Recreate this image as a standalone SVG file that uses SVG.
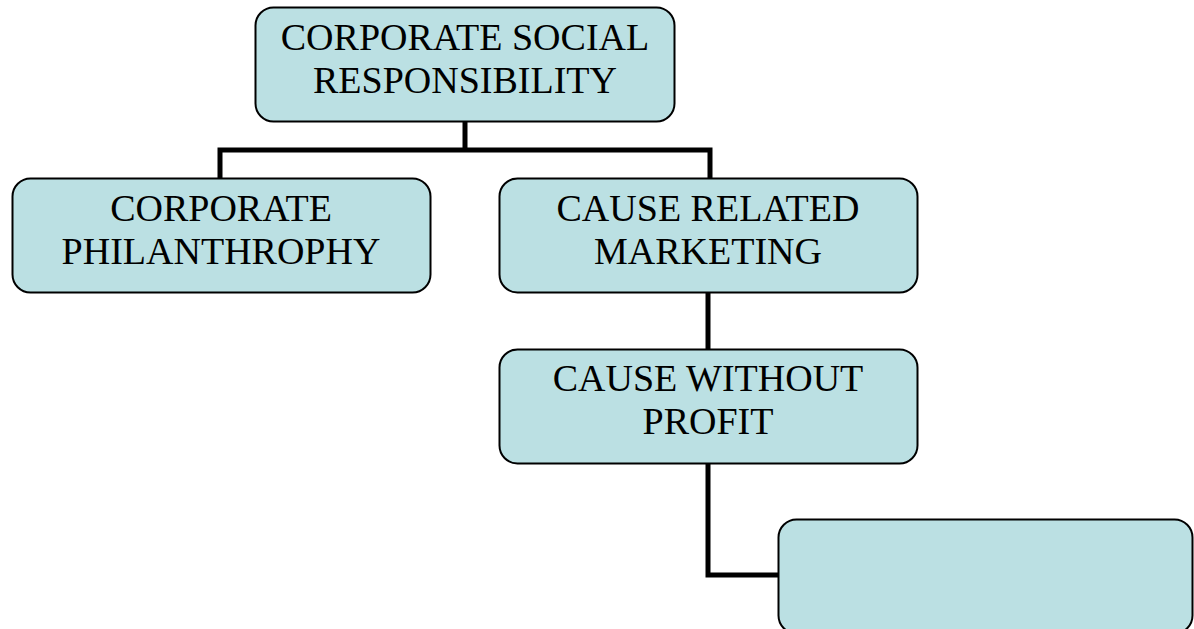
<svg xmlns="http://www.w3.org/2000/svg" width="1194" height="629" viewBox="0 0 1194 629">
<style>
.box{fill:#bbe0e3;stroke:#000;stroke-width:2}
.lbl{font-family:"Liberation Serif","Times New Roman",serif;font-size:38px;fill:#000;text-anchor:middle}
.conn{fill:none;stroke:#000;stroke-width:5;stroke-linejoin:miter}
</style>
<rect width="1194" height="629" fill="#fff"/>
<g id="connectors">
<path class="conn" d="M465,122 V150"/>
<path class="conn" d="M220,178 V150 H710 V178"/>
<path class="conn" d="M708,292 V349"/>
<path class="conn" d="M708,463 V575 H778"/>
</g>
<g id="node-csr">
<rect class="box" x="255.5" y="7.5" width="419" height="114" rx="18"/>
<text class="lbl" x="465" y="50">CORPORATE SOCIAL</text>
<text class="lbl" x="465" y="93">RESPONSIBILITY</text>
</g>
<g id="node-philanthropy">
<rect class="box" x="12.5" y="178.5" width="418" height="114" rx="18"/>
<text class="lbl" x="221" y="221">CORPORATE</text>
<text class="lbl" x="221" y="264">PHILANTHROPHY</text>
</g>
<g id="node-crm">
<rect class="box" x="499.5" y="178.5" width="418" height="114" rx="18"/>
<text class="lbl" x="708" y="221">CAUSE RELATED</text>
<text class="lbl" x="708" y="264">MARKETING</text>
</g>
<g id="node-cwp">
<rect class="box" x="499.5" y="349.5" width="418" height="114" rx="18"/>
<text class="lbl" x="708" y="391">CAUSE WITHOUT</text>
<text class="lbl" x="708" y="434">PROFIT</text>
</g>
<g id="node-empty">
<rect class="box" x="778.5" y="519.5" width="414" height="114" rx="18"/>
</g>
</svg>
